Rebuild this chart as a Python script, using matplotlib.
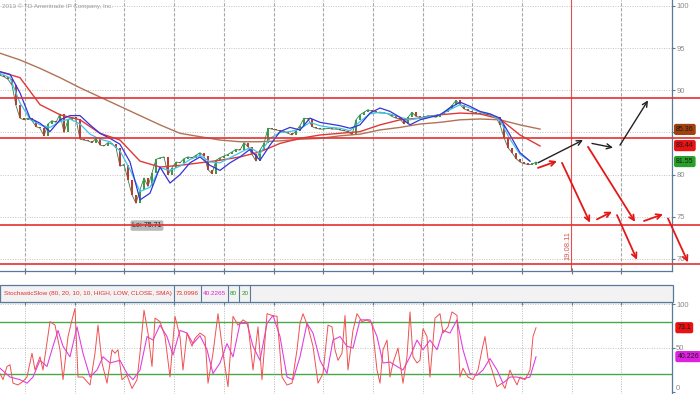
import numpy as np
import matplotlib
matplotlib.use("Agg")
import matplotlib.pyplot as plt
from matplotlib.patches import Rectangle
from matplotlib.lines import Line2D

plt.rcParams["font.family"] = ["Liberation Sans", "DejaVu Sans"]

# ──────────────────────────────────────────────────────────────
# Data (bar axis: one unit per chart bar slot)
# ──────────────────────────────────────────────────────────────
BAR_STEP = 4
close = [91.8, 91.6, 91.3, 90.6, 88.2, 86.7, 86.5, 86.7, 86.4, 85.7,
         85.5, 84.6, 86.0, 86.4, 86.2, 87.2, 85.0, 86.5, 86.8, 86.6,
         84.2, 84.1, 84.0, 83.8, 84.3, 83.5, 83.4, 83.8, 83.6, 83.2,
         81.0, 81.2, 79.4, 77.6, 76.6, 78.2, 79.6, 78.6, 80.2, 81.8,
         82.0, 82.1, 80.0, 80.8, 81.5, 81.4, 81.9, 82.1, 82.0, 82.3,
         82.6, 82.2, 80.6, 80.1, 81.7, 82.0, 82.2, 82.4, 82.7, 83.0,
         82.9, 83.8, 83.3, 82.4, 81.6, 82.9, 83.7, 85.5, 85.4, 85.3,
         85.2, 85.1, 84.9, 84.7, 85.2, 85.8, 86.7, 86.6, 85.7, 85.5,
         85.4, 85.4, 85.5, 85.4, 85.4, 85.3, 85.2, 85.1, 84.7, 86.5,
         87.1, 87.4, 87.7, 87.5, 87.4, 87.3, 87.3, 87.2, 86.9, 86.7,
         86.6, 86.0, 86.8, 87.4, 86.9, 86.8, 86.8, 87.0, 86.9, 86.8,
         87.1, 87.4, 87.8, 88.2, 88.8, 88.3, 87.8, 87.6, 87.4, 87.3,
         87.2, 87.2, 87.1, 87.0, 86.8, 85.9, 84.4, 83.2, 82.6, 81.9,
         81.5, 81.3, 81.2, 81.2, 81.5]

# slow moving averages, one value every 20 bars
SLOW_STEP = 20
sma_long = [94.4, 93.6, 92.6, 91.5, 90.3, 89.2, 88.1, 87.0, 85.9, 84.9,
            84.5, 84.1, 83.9, 83.9, 84.0, 84.2, 84.3, 84.6, 84.8, 85.3,
            85.6, 86.0, 86.2, 86.5, 86.6, 86.5, 85.9, 85.4]
sma_mid = [92.2, 91.5, 88.3, 87.1, 86.5, 84.9, 84.1, 81.6, 80.9, 81.1,
           81.4, 81.7, 82.1, 82.7, 83.7, 84.3, 84.7, 84.9, 85.1, 85.9,
           86.5, 86.7, 87.1, 87.3, 87.2, 86.6, 84.7, 83.4]

# fast moving averages, one value every 10 bars
FAST_STEP = 10
ma_blue = [92.2, 91.9, 89.7, 86.7, 86.1, 85.1, 86.5, 87.0, 87.0, 85.9,
           84.9, 84.3, 83.6, 81.5, 77.0, 77.8, 80.9, 79.0, 80.0, 81.4,
           82.1, 81.1, 80.5, 81.4, 82.1, 83.0, 81.7, 83.5, 85.1, 85.6,
           85.3, 86.7, 86.2, 86.0, 85.8, 85.5, 85.9, 87.3, 87.9, 87.5,
           86.8, 85.9, 86.5, 86.8, 87.1, 87.9, 88.6, 88.1, 87.5, 87.2,
           86.7, 84.7, 82.6, 81.6]
ma_cyan = [92.0, 91.5, 88.5, 86.6, 85.9, 85.6, 86.3, 86.6, 86.0, 84.8,
           84.2, 83.9, 82.8, 80.6, 78.0, 78.5, 80.8, 80.5, 81.0, 81.8,
           82.3, 81.5, 81.4, 82.0, 82.6, 83.2, 82.5, 84.3, 85.0, 85.1,
           85.4, 86.2, 85.8, 85.6, 85.5, 85.2, 86.3, 87.2, 87.4, 87.2,
           86.8, 86.5, 86.7, 86.9, 87.1, 87.7, 88.3, 87.9, 87.4, 87.2,
           86.4, 84.2, 82.4, 81.6]

levels = [89.1, 84.3, 74.0, 69.4]
low_value = 75.71
marker_bar = 571
marker_label = "19.08.11"

# forecast arrows: (bar0, price0, bar1, price1)
black_arrows = [(538, 81.4, 583, 84.1), (592, 83.7, 613, 83.2),
                (620, 83.5, 648, 88.8)]
red_arrows = [(538, 80.8, 557, 81.6), (562, 81.4, 590, 74.3),
              (597, 74.7, 612, 75.6), (588, 83.3, 635, 74.4),
              (617, 75.2, 637, 69.9), (644, 74.5, 663, 75.3),
              (668, 74.8, 688, 69.6)]

# price badges on the right axis
badge_values = [85.36, 83.44, 81.55]
badge_colors = ["#a3400c", "#e81212", "#2aa02a"]

# StochasticSlow %K and %D
k_bar = [0, 3, 7, 10, 13, 18, 23, 27, 32, 35, 40, 43, 50, 55, 60, 63, 68, 72, 75, 78,
         83, 90, 95, 98, 102, 107, 112, 115, 118, 122, 127, 132, 137, 140, 144, 148,
         152, 155, 160, 165, 170, 175, 180, 183, 187, 192, 195, 200, 205, 208, 213,
         218, 223, 228, 233, 238, 243, 248, 253, 258, 262, 267, 272, 277, 282, 287,
         292, 297, 300, 303, 308, 313, 318, 323, 328, 332, 335, 338, 342, 345, 348,
         353, 357, 362, 367, 372, 377, 380, 383, 387, 390, 393, 398, 403, 407, 410,
         413, 417, 420, 423, 427, 430, 435, 440, 443, 448, 452, 457, 460, 463, 468,
         473, 478, 482, 485, 488, 492, 497, 502, 505, 510, 513, 517, 520, 525, 530,
         533, 536]
k_val = [21, 14, 29, 31, 10, 8, 12, 17, 44, 25, 40, 25, 80, 76, 48, 14, 63, 82, 95, 17,
         17, 8, 44, 76, 33, 10, 48, 44, 48, 14, 19, 4, 14, 44, 93, 67, 29, 84, 80, 63,
         17, 86, 63, 25, 67, 52, 61, 67, 63, 10, 44, 89, 44, 6, 86, 76, 82, 78, 25, 74,
         14, 89, 87, 86, 17, 8, 10, 48, 78, 89, 74, 52, 10, 21, 76, 74, 48, 36, 44, 87,
         25, 70, 89, 80, 82, 78, 25, 10, 48, 59, 17, 33, 50, 10, 40, 91, 40, 33, 36, 72,
         63, 17, 84, 89, 67, 74, 91, 87, 17, 27, 17, 14, 25, 48, 63, 38, 25, 6, 10, 4,
         25, 17, 8, 17, 14, 25, 63, 73]
d_bar = [0, 10, 20, 27, 33, 40, 47, 53, 58, 63, 70, 77, 83, 90, 97, 103, 110, 120, 127,
         133, 140, 147, 153, 160, 167, 173, 180, 187, 193, 200, 207, 213, 220, 227, 233,
         240, 247, 253, 260, 267, 273, 280, 287, 293, 300, 307, 313, 320, 327, 333, 340,
         347, 353, 360, 370, 377, 383, 390, 397, 403, 410, 417, 423, 430, 437, 443, 450,
         457, 463, 470, 477, 483, 490, 497, 503, 510, 517, 523, 530, 536]
d_val = [27, 17, 14, 10, 17, 36, 29, 52, 70, 52, 40, 74, 44, 17, 25, 40, 33, 36, 21, 14,
         25, 63, 59, 76, 63, 42, 70, 67, 55, 64, 48, 21, 33, 55, 40, 78, 78, 52, 36, 78,
         87, 63, 17, 14, 40, 78, 67, 36, 21, 59, 63, 52, 50, 82, 82, 63, 33, 34, 29, 25,
         40, 59, 48, 59, 48, 70, 67, 82, 48, 21, 19, 25, 38, 25, 10, 17, 17, 15, 17, 40]
stoch_header = [("StochasticSlow (80, 20, 10, 10, HIGH, LOW, CLOSE, SMA)", "#e03030"),
                ("73.0996", "#e03030"), ("40.2265", "#e020e0"),
                ("80", "#2a9a2a"), ("20", "#2a9a2a")]
stoch_badges = [("73.1", 73.1, "#e81212"), ("40.226", 40.2265, "#e020e0")]
grid_bars = [25 + 49.7 * k for k in range(13)]

AXIS_COL = "#5a7a9a"
TICK_COL = "#8a8a8a"

W, H = 700, 394
def fx(px):
    return px / W
def fy(py):
    return 1 - py / H

fig = plt.figure(figsize=(7.0, 3.94), dpi=100)
ax = fig.add_axes([0, fy(271), fx(672), 271 / H])
axs = fig.add_axes([0, 0, fx(672), 92 / H])

# ──────────────────────────────────────────────────────────────
# Price panel
# ──────────────────────────────────────────────────────────────
ax.set_xlim(0, 672)
ax.set_ylim(68.57, 100.71)
for g in grid_bars:
    if abs(g - marker_bar) > 3:
        ax.axvline(g, color="#a8a8a8", lw=0.8, dashes=(3, 1.5), zorder=1)
for p in range(70, 101, 5):
    ax.axhline(p, color="#c4c4c4", lw=0.7, dashes=(1, 1.5), zorder=1)

closes = np.array(close)
bars = np.arange(len(closes)) * BAR_STEP
opens = np.r_[closes[0], closes[:-1]]
body_lo = np.minimum(opens, closes)
body_h = np.maximum(np.abs(closes - opens), 0.12)
cols = np.where(closes >= opens, "#3a9a48", "#c23a2a")
ax.plot(bars, closes, color="#2f7f55", lw=0.6, zorder=2)
ax.bar(bars, body_h, bottom=body_lo, width=2.4, color=cols, zorder=3)

slow_x = np.arange(len(sma_long)) * SLOW_STEP
fast_x = np.arange(len(ma_blue)) * FAST_STEP
ax.plot(slow_x, sma_long, color="#b07355", lw=1.0, zorder=4)
ax.plot(slow_x, sma_mid, color="#e03838", lw=1.0, zorder=4)
ax.plot(fast_x, ma_cyan, color="#3ec4ea", lw=0.9, zorder=5)
ax.plot(fast_x, ma_blue, color="#3434d8", lw=0.9, zorder=5)

for lv in levels:
    ax.axhline(lv, xmax=W / 672, color="#e43030", lw=1.2, clip_on=False, zorder=6)

ax.axvline(marker_bar, color="#e05050", lw=0.8, zorder=2)
ax.text(marker_bar - 3, 71.6, marker_label, rotation=90, color="#e05050",
        fontsize=5.5, ha="center", va="center")

low_bar = bars[np.argmin(closes)]
ax.text(low_bar + 11, low_value - 1.75, f"Lo: {low_value}", fontsize=5, color="#222222",
        ha="center", va="center",
        bbox=dict(boxstyle="round,pad=0.25", fc="#b8b8b8", ec="none"))

ax.text(2, 100.0, "2013 \u00a9 TD Ameritrade IP Company, Inc.", fontsize=4.5,
        color="#9a9a9a", ha="left", va="center")

for b0, p0, b1, p1 in black_arrows:
    ax.annotate("", xy=(b1, p1), xytext=(b0, p0), annotation_clip=False,
                arrowprops=dict(arrowstyle="->", color="#222222", lw=1.0,
                                mutation_scale=9, shrinkA=0, shrinkB=0), zorder=7)
for b0, p0, b1, p1 in red_arrows:
    ax.annotate("", xy=(b1, p1), xytext=(b0, p0), annotation_clip=False,
                arrowprops=dict(arrowstyle="->", color="#e41818", lw=1.3,
                                mutation_scale=9, shrinkA=0, shrinkB=0), zorder=7)

for v, c in zip(badge_values, badge_colors):
    ax.text(1.006, v, f"{v:.2f}", transform=ax.get_yaxis_transform(), fontsize=5,
            color="#1a1a1a", ha="left", va="center", zorder=8,
            bbox=dict(boxstyle="round,pad=0.3", fc=c, ec="none"))

for s in ["top", "left"]:
    ax.spines[s].set_visible(False)
for s in ["right", "bottom"]:
    ax.spines[s].set_color(AXIS_COL)
    ax.spines[s].set_linewidth(0.9)
ax.yaxis.tick_right()
ax.set_yticks(range(70, 101, 5))
ax.tick_params(axis="y", length=2, color=AXIS_COL, labelsize=5.5,
               labelcolor=TICK_COL, pad=1)
ax.set_xticks(grid_bars)
ax.tick_params(axis="x", direction="inout", length=5, color=AXIS_COL,
               labelbottom=False)

# ──────────────────────────────────────────────────────────────
# Stochastic panel
# ──────────────────────────────────────────────────────────────
axs.set_xlim(0, 672)
axs.set_ylim(-2.3, 102.3)
for g in grid_bars:
    axs.axvline(g, color="#b8b8b8", lw=0.7, dashes=(1, 1.5), zorder=1)
for lv in (100, 50):
    axs.axhline(lv, color="#c4c4c4", lw=0.7, dashes=(1, 1.5), zorder=1)
for lv in (80, 20):
    axs.axhline(lv, color="#4aa84a", lw=1.0, zorder=2)
axs.plot(d_bar, d_val, color="#e040e0", lw=0.8, zorder=3)
axs.plot(k_bar, k_val, color="#f05050", lw=0.7, zorder=4)
for lab, v, c in stoch_badges:
    axs.text(1.008, v, lab, transform=axs.get_yaxis_transform(), fontsize=5,
             color="#1a1a1a", ha="left", va="center",
             bbox=dict(boxstyle="round,pad=0.3", fc=c, ec="none"))

for s in ["bottom", "left"]:
    axs.spines[s].set_visible(False)
for s in ["right", "top"]:
    axs.spines[s].set_color(AXIS_COL)
    axs.spines[s].set_linewidth(0.9)
axs.yaxis.tick_right()
axs.set_yticks([0, 50, 100])
axs.tick_params(axis="y", length=2, color=AXIS_COL, labelsize=5.5,
                labelcolor=TICK_COL, pad=1)
axs.get_yticklabels()[0].set_verticalalignment("bottom")
axs.set_xticks(grid_bars)
axs.tick_params(axis="x", direction="inout", length=4, color=AXIS_COL,
                top=True, bottom=False, labelbottom=False)

# header strip for the study
fig.patches.append(Rectangle((0, fy(302)), fx(673), 17 / H, transform=fig.transFigure,
                             fc="#f2f2f2", ec=AXIS_COL, lw=0.9))
renderer = fig.canvas.get_renderer()
cur = 4
for txt, c in stoch_header:
    t = fig.text(fx(cur), fy(293.5), txt, fontsize=4.6, color=c, ha="left", va="center")
    ext = t.get_window_extent(renderer)
    cur += ext.width + 2
    fig.add_artist(Line2D([fx(cur), fx(cur)], [fy(302), fy(285)],
                          transform=fig.transFigure, color=AXIS_COL, lw=0.8))
    cur += 2

fig.savefig("out.png", dpi=100)
